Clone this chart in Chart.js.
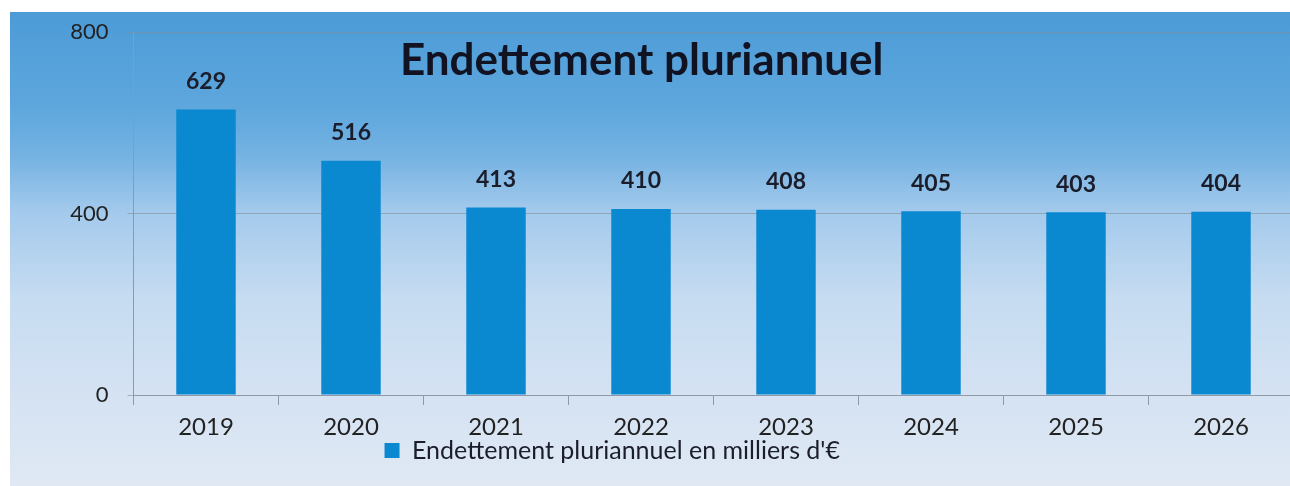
<!DOCTYPE html>
<html>
<head>
<meta charset="utf-8">
<script src="https://cdn.jsdelivr.net/npm/chart.js@4"></script>
<style>
  html, body { margin: 0; padding: 0; background: #fff; overflow: hidden; }
  body { width: 1290px; height: 486px; position: relative; }
  #wrap { position: absolute; left: 10px; top: 12px; width: 1300px; height: 478px; }
</style>
</head>
<body>
<div id="wrap"><canvas id="chart"></canvas></div>
<script>
// données du graphique
const annees = ['2019', '2020', '2021', '2022', '2023', '2024', '2025', '2026'];
const endettement = [629, 516, 413, 410, 408, 405, 403, 404];
const ticksY = [0, 400, 800];
const titre = 'Endettement pluriannuel';
const legende = "Endettement pluriannuel en milliers d'€";

// fond dégradé bleu -> blanc
const fondDegrade = {
    id: 'fondDegrade',
    beforeDraw(chart) {
        const ctx = chart.ctx;
        const g = ctx.createLinearGradient(0, 0, 0, chart.height);
        g.addColorStop(0, '#4c9bd7');
        g.addColorStop(0.2, '#5ea7dd');
        g.addColorStop(0.3, '#74b2e2');
        g.addColorStop(0.42, '#a4caec');
        g.addColorStop(0.6, '#c6dcf1');
        g.addColorStop(0.82, '#d6e3f3');
        g.addColorStop(1, '#e0e9f4');
        ctx.save();
        ctx.fillStyle = g;
        ctx.fillRect(0, 0, chart.width, chart.height);
        ctx.restore();
    }
};

// valeurs au-dessus des barres
const etiquettes = {
    id: 'etiquettes',
    afterDatasetsDraw(chart) {
        const ctx = chart.ctx;
        const meta = chart.getDatasetMeta(0);
        ctx.save();
        ctx.font = 'bold 23px Lato';
        ctx.fillStyle = '#1b1d2b';
        ctx.textAlign = 'center';
        ctx.textBaseline = 'middle';
        meta.data.forEach((bar, i) => {
            ctx.fillText(chart.data.datasets[0].data[i], bar.x, bar.y - 28);
        });
        ctx.restore();
    }
};

// décale titre et légende comme sur l'original
const decalage = {
    id: 'decalage',
    afterLayout(chart) {
        const l = chart.legend;
        l.left -= 39.5; l.right -= 39.5;
        l.top -= 17; l.bottom -= 17;
        const t = chart.titleBlock;
        t.left -= 10; t.right -= 10;
    }
};

new Chart(document.getElementById('chart'), {
    type: 'bar',
    data: {
        labels: annees,
        datasets: [{
            label: legende,
            data: endettement,
            backgroundColor: '#0a88d0',
            borderWidth: 0,
            categoryPercentage: 1,
            barPercentage: 0.41
        }]
    },
    options: {
        responsive: true,
        maintainAspectRatio: false,
        animation: false,
        layout: { padding: { top: 20, right: 16.5, left: 0, bottom: 0 } },
        plugins: {
            title: {
                display: true,
                text: titre,
                color: '#111322',
                font: { family: 'Lato', size: 44, weight: 'bold' },
                padding: { top: 2.6, bottom: -55.4 }
            },
            legend: {
                position: 'bottom',
                labels: {
                    color: '#1b1d2b',
                    font: { family: 'Lato', size: 25 },
                    boxWidth: 15,
                    boxHeight: 15,
                    padding: 10
                }
            },
            tooltip: { enabled: false }
        },
        scales: {
            x: {
                grid: {
                    drawOnChartArea: false,
                    tickLength: 10,
                    color: '#8f9aa6'
                },
                border: { color: '#8f9aa6' },
                ticks: {
                    color: '#222',
                    font: { family: 'Lato', size: 24 },
                    padding: 8
                },
                afterFit(s) { s.height = 50; }
            },
            y: {
                min: 0,
                max: 800,
                afterBuildTicks(s) { s.ticks = ticksY.map(v => ({ value: v })); },
                grid: {
                    color: 'rgba(130,140,150,0.6)',
                    tickLength: 6
                },
                border: { color: '#8f9aa6' },
                ticks: {
                    color: '#222',
                    font: { family: 'Lato', size: 22 },
                    padding: 19
                },
                afterFit(s) {
                    s.width = 123.5;
                    s.paddingTop = 0;
                    s.paddingBottom = 0;
                }
            }
        }
    },
    plugins: [fondDegrade, etiquettes, decalage]
});
</script>
</body>
</html>
